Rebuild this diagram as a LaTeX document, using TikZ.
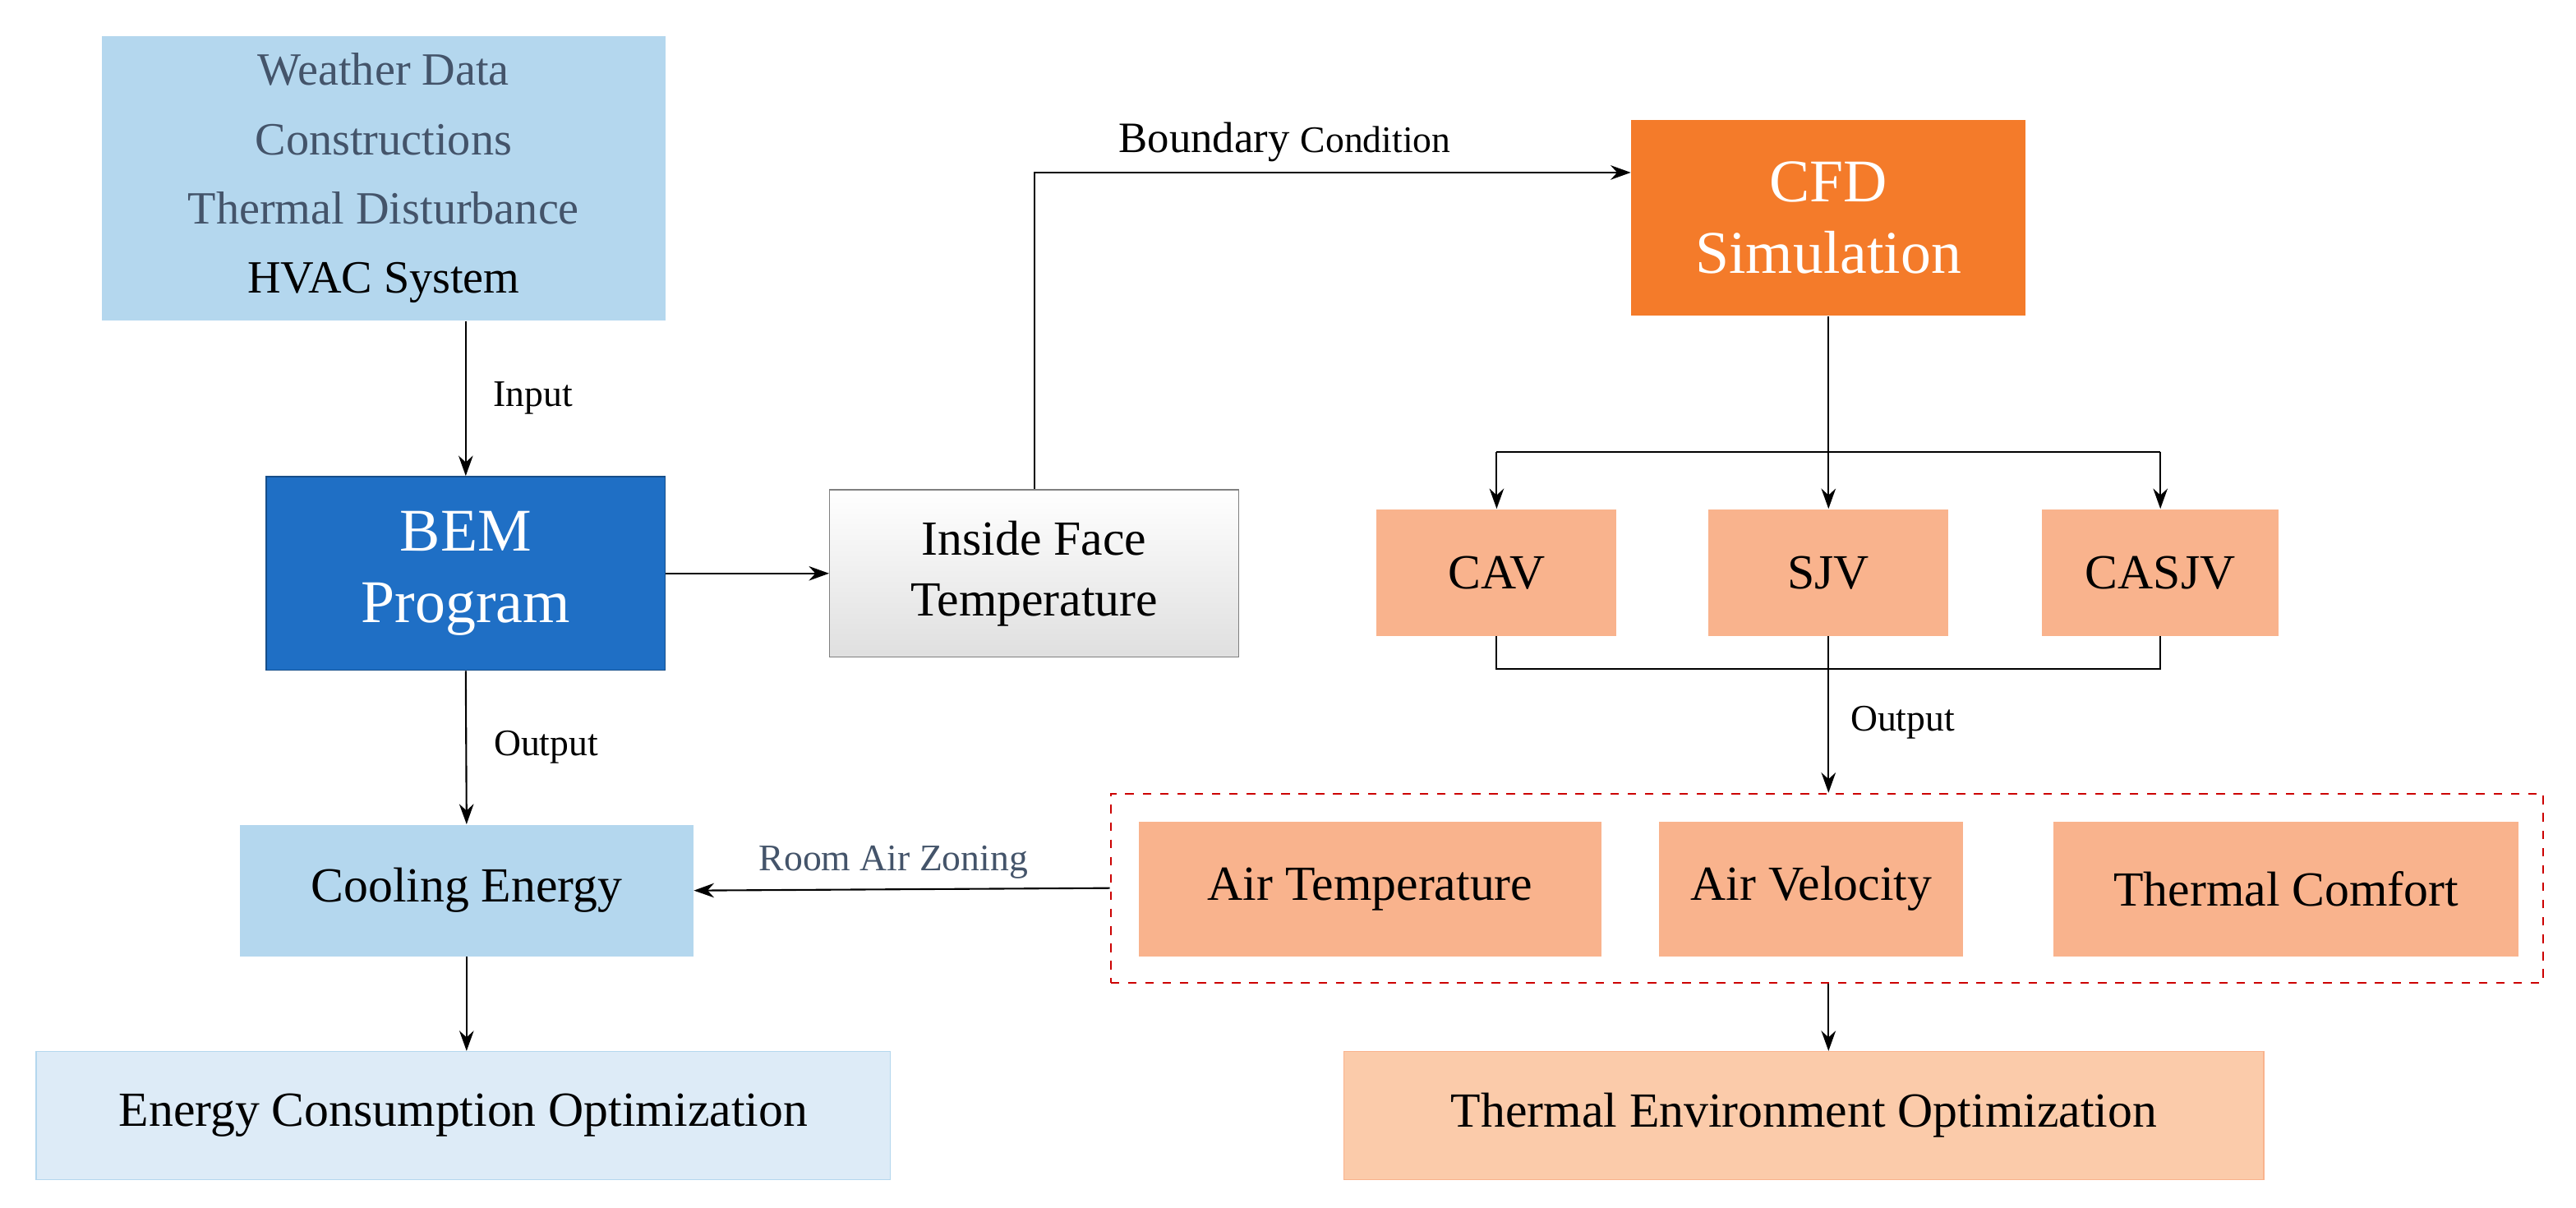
\documentclass[tikz,border=0pt]{standalone}
\usepackage{fontspec}
\setmainfont{Liberation Serif}
\usetikzlibrary{arrows.meta}
\definecolor{lb}{HTML}{B4D7EE}
\definecolor{llb}{HTML}{DDEBF7}
\definecolor{db}{HTML}{1F6FC5}
\definecolor{org}{HTML}{F47B2A}
\definecolor{sal}{HTML}{F9B38D}
\definecolor{lsal}{HTML}{FBCBAA}
\definecolor{gt}{HTML}{44546A}
\begin{document}
\begin{tikzpicture}[x=0.02cm,y=-0.02cm,
  box/.style={draw=none,inner sep=0,align=center,font=\fontsize{17}{21}\selectfont},
  lab/.style={font=\fontsize{13}{15}\selectfont},
  arr/.style={-{Stealth[length=7pt,width=5pt]},line width=0.6pt},
  ln/.style={line width=0.6pt}]
\useasboundingbox (0,0) rectangle (1568,735);
\fill[white] (0,0) rectangle (1568,735);
\node[box,fill=lb,minimum width=343*0.02cm,minimum height=173*0.02cm,font=\fontsize{16}{24}\selectfont] (w) at (233.5,108.5) {\textcolor{gt}{Weather Data}\\\textcolor{gt}{Constructions}\\\textcolor{gt}{Thermal Disturbance}\\HVAC System};
\node[box,fill=db,draw=db!70!black,text=white,minimum width=243*0.02cm,minimum height=118*0.02cm,font=\fontsize{21}{25}\selectfont] (bem) at (283.5,349) {BEM\\Program};
\node[box,draw=gray,top color=white,bottom color=gray!25,minimum width=249*0.02cm,minimum height=102*0.02cm] (ift) at (629.5,349) {Inside Face\\Temperature};
\node[box,fill=org,text=white,minimum width=240*0.02cm,minimum height=119*0.02cm,font=\fontsize{21}{25}\selectfont] (cfd) at (1113,132.5) {CFD\\Simulation};
\node[box,fill=sal,minimum width=146*0.02cm,minimum height=77*0.02cm] (cav) at (911,348.5) {CAV};
\node[box,fill=sal,minimum width=146*0.02cm,minimum height=77*0.02cm] (sjv) at (1113,348.5) {SJV};
\node[box,fill=sal,minimum width=144*0.02cm,minimum height=77*0.02cm] (casjv) at (1315,348.5) {CASJV};
\node[box,fill=lb,minimum width=276*0.02cm,minimum height=80*0.02cm] (ce) at (284,542) {Cooling Energy};
\node[box,fill=llb,draw=lb,minimum width=520*0.02cm,minimum height=78*0.02cm] (eco) at (282,679) {Energy Consumption Optimization};
\node[draw=red!80!black,dashed,line width=0.6pt,minimum width=872*0.02cm,minimum height=115*0.02cm,inner sep=0] (dash) at (1112,540.5) {};
\node[box,fill=sal,minimum width=282*0.02cm,minimum height=82*0.02cm] (at) at (834,541) {Air Temperature};
\node[box,fill=sal,minimum width=185*0.02cm,minimum height=82*0.02cm] (av) at (1102.5,541) {Air Velocity};
\node[box,fill=sal,minimum width=283*0.02cm,minimum height=82*0.02cm] (tc) at (1391.5,541) {Thermal Comfort};
\node[box,fill=lsal,draw=sal,minimum width=560*0.02cm,minimum height=78*0.02cm] (teo) at (1098,679) {Thermal Environment Optimization};
% connectors
\draw[arr] (w.south -| bem) -- node[lab,right,xshift=6pt]{Input} (bem.north);
\draw[arr] (bem.east) -- (ift.west);
\coordinate (bc) at (629.5,105);
\draw[arr] (ift.north) -- (bc) -- node[lab,above,pos=0.42]{\fontsize{15}{17}\selectfont Boundary \fontsize{13}{15}\selectfont Condition} (bc -| cfd.west);
\draw[arr] (cfd.south) -- (sjv.north);
\coordinate (t1) at (911,275); \coordinate (t2) at (1315,275);
\draw[arr] (t1) -- (cav.north);
\draw[arr] (t2) -- (casjv.north);
\draw[ln] (t1) -- (t2);
\coordinate (b1) at (911,407); \coordinate (b2) at (1315,407);
\draw[ln] (cav.south) -- (b1) -- (b2) -- (casjv.south);
\draw[arr] (sjv.south) -- node[lab,right,pos=0.55,xshift=4pt]{Output} (sjv.south |- dash.north);
\draw[arr] (bem.south) -- node[lab,right,xshift=6pt]{Output} (ce.north);
\draw[arr] (dash.west) -- node[lab,above,text=gt,pos=0.52]{Room Air Zoning} (ce.east);
\draw[arr] (ce.south) -- (ce.south |- eco.north);
\draw[arr] (sjv.south |- dash.south) -- (sjv.south |- teo.north);
\end{tikzpicture}
\end{document}
